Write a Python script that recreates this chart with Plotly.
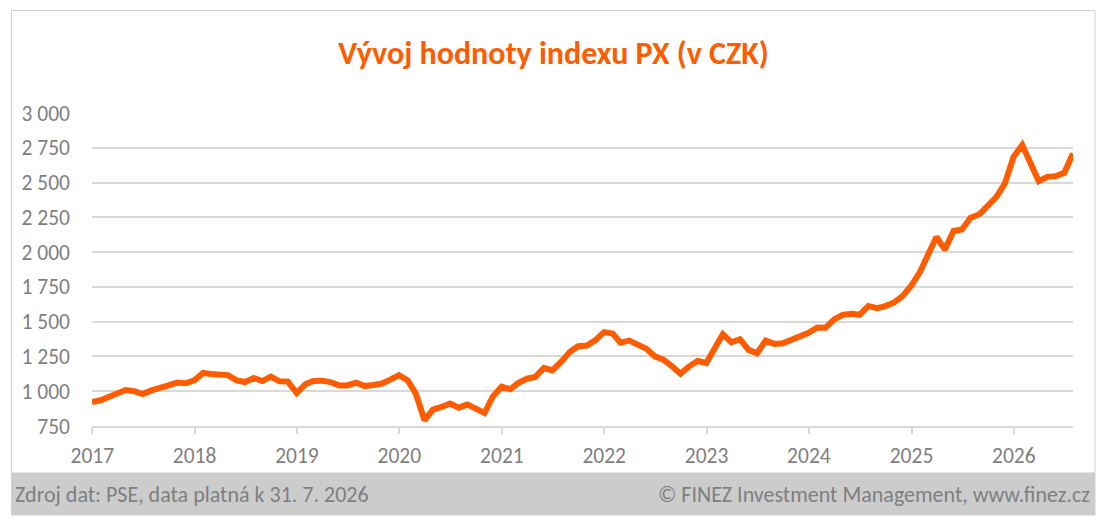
import pandas as pd
import plotly.graph_objects as go

# month-end closing values of the PX index
months = pd.date_range("2016-12-31", "2026-07-31", freq="ME")
px_close = [
    922,
    935, 958, 987, 1009, 1001, 980, 1006, 1021, 1042, 1062, 1057, 1078,
    1131, 1124, 1124, 1116, 1078, 1066, 1095, 1073, 1105, 1071, 1069, 987,
    1050, 1073, 1076, 1066, 1042, 1042, 1062, 1037, 1045, 1055, 1083, 1116,
    1078, 983, 791, 868, 887, 911, 882, 904, 875, 843, 963, 1032,
    1014, 1059, 1090, 1102, 1167, 1150, 1210, 1282, 1323, 1328, 1366, 1425,
    1414, 1349, 1364, 1330, 1306, 1251, 1227, 1179, 1126, 1179, 1217, 1203,
    1320, 1410, 1352, 1374, 1297, 1273, 1364, 1340, 1345, 1369, 1393, 1420,
    1458, 1456, 1516, 1549, 1556, 1549, 1612, 1597, 1612, 1638, 1684, 1758,
    1857, 1977, 2109, 2018, 2152, 2162, 2248, 2272, 2335, 2397, 2493, 2685,
    2769, 2649, 2510, 2541, 2546, 2570, 2709,
]

years = list(range(2017, 2027))
year_ticks = [f"{y}-01-01" for y in years]
y_ticks = [750, 1000, 1250, 1500, 1750, 2000, 2250, 2500, 2750, 3000]
y_labels = ["750", "1 000", "1 250", "1 500", "1 750", "2 000", "2 250", "2 500", "2 750", "3 000"]

title = "Vývoj hodnoty indexu PX (v CZK)"
source_note = "Zdroj dat: PSE, data platná k 31. 7. 2026"
copyright_note = "© FINEZ Investment Management, www.finez.cz"

ORANGE = "#FF5C00"
GREY_TEXT = "#7F7F7F"
GRID = "#D9D9D9"
FONT = "Carlito, Lato, sans-serif"

fig = go.Figure()
fig.add_trace(go.Scatter(
    x=months, y=px_close,
    mode="lines",
    line=dict(color=ORANGE, width=6),
    hoverinfo="skip",
))

# the page puts the figure 8px in from the top-left corner,
# so everything below is in figure px (= screen px - 8)
W, H = 1095, 510
L, R, T, B = 84, 30, 105, 92
pw, ph = W - L - R, H - T - B


def px_x(x):
    return (x - L) / pw


def px_y(y):
    return (H - B - y) / ph


# outer frame of the chart
fig.add_shape(type="rect", xref="paper", yref="paper",
              x0=px_x(3.5), x1=px_x(1087), y0=px_y(507), y1=px_y(2.5),
              line=dict(color="#D0D0D0", width=1), fillcolor="rgba(0,0,0,0)", layer="below")
# grey footer band
fig.add_shape(type="rect", xref="paper", yref="paper",
              x0=px_x(3.5), x1=px_x(1087), y0=px_y(507), y1=px_y(464.5),
              line=dict(width=0), fillcolor="#CCCCCC", layer="below")

fig.add_annotation(text=source_note, xref="paper", yref="paper",
                   x=px_x(5), y=px_y(486), xanchor="left", yanchor="middle",
                   showarrow=False, font=dict(family=FONT, size=22, color=GREY_TEXT))
fig.add_annotation(text=copyright_note, xref="paper", yref="paper",
                   x=px_x(1084), y=px_y(486), xanchor="right", yanchor="middle",
                   showarrow=False, font=dict(family=FONT, size=22, color=GREY_TEXT))

fig.update_layout(
    width=W, height=H,
    margin=dict(l=L, r=R, t=T, b=B),
    paper_bgcolor="white", plot_bgcolor="white",
    showlegend=False,
    font=dict(family=FONT, color=GREY_TEXT),
    title=dict(text=f"<b>{title}</b>", x=545.5 / W, xanchor="center",
               y=1 - 45 / H, yanchor="middle",
               font=dict(family=FONT, size=32, color=ORANGE)),
    xaxis=dict(
        type="date",
        range=[months[0], months[-1]],
        tickvals=year_ticks, ticktext=[str(y) for y in years],
        showgrid=False, zeroline=False,
        showline=True, linecolor=GRID, linewidth=1.5,
        ticks="outside", ticklen=6, tickcolor=GRID, tickwidth=1.5,
        ticklabelstandoff=3,
        tickfont=dict(size=21.5, color=GREY_TEXT),
    ),
    yaxis=dict(
        range=[750, 3000],
        tickvals=y_ticks, ticktext=y_labels,
        showgrid=True, gridcolor=GRID, gridwidth=1.5,
        zeroline=False, showline=False, ticks="",
        ticklabelstandoff=21,
        tickfont=dict(size=21.5, color=GREY_TEXT),
    ),
)

fig.write_html("out.html")
